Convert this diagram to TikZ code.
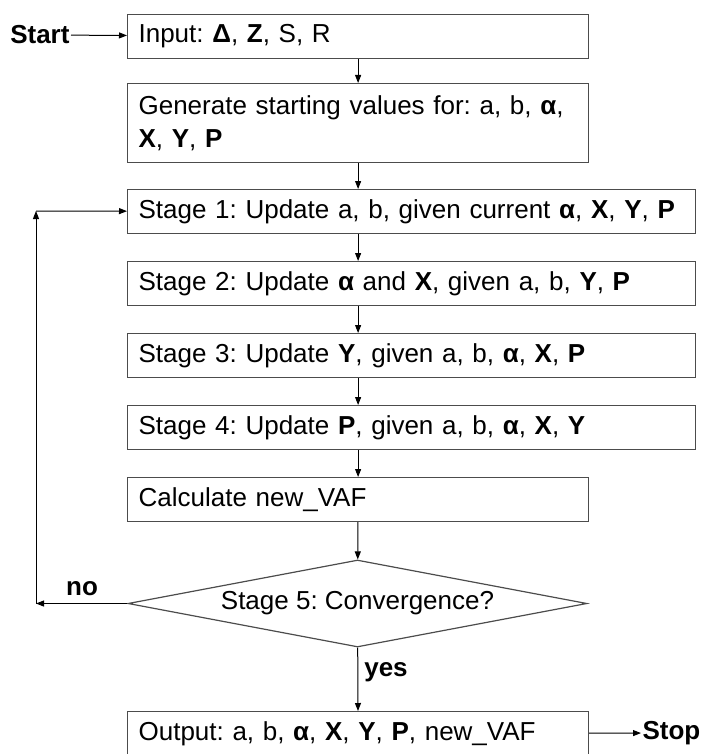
\documentclass[tikz,border=0pt]{standalone}
\usepackage{fontspec}
\setmainfont{Liberation Sans}
\usetikzlibrary{shapes.geometric, arrows.meta}
\newcommand{\vb}[1]{\textbf{#1}}
\frenchspacing

\begin{document}
\begin{tikzpicture}[x=1pt, y=-1pt, >={Triangle[length=8pt, width=6pt]}, line width=1pt,
    every node/.style={font=\fontsize{26}{33}\selectfont},
    box/.style={draw=black!70, line width=1.2pt, anchor=north west, inner xsep=11pt, inner ysep=0pt, align=left, minimum height=44pt, text width=439pt},
    wide/.style={box, text width=546pt},
    test/.style={draw=black!70, line width=1.2pt, diamond, shape aspect=5.3, inner sep=0pt, minimum width=459pt, minimum height=87pt},
    tag/.style={font=\fontsize{26}{33}\selectfont\bfseries, inner sep=1pt}]
          \useasboundingbox (0,0) rectangle (704,754);
          \node[tag, anchor=east] (Start) at (71,35) {Start};
          \node[box] (In) at (127,14) {Input: \vb{Δ}, \vb{Z}, S, R};
          \node[box, minimum height=79pt] (Gen) at (127,83) {Generate starting values for: a, b, \vb{α},\\ \vb{X}, \vb{Y}, \vb{P}};
          \node[wide] (S1) at (127,189) {Stage 1: Update a, b, given current \vb{α}, \vb{X}, \vb{Y}, \vb{P}};
          \node[wide] (S2) at (127,261) {Stage 2: Update \vb{α} and \vb{X}, given a, b, \vb{Y}, \vb{P}};
          \node[wide] (S3) at (127,333) {Stage 3: Update \vb{Y}, given a, b, \vb{α}, \vb{X}, \vb{P}};
          \node[wide] (S4) at (127,405) {Stage 4: Update \vb{P}, given a, b, \vb{α}, \vb{X}, \vb{Y}};
          \node[box] (Calc) at (127,477) {Calculate new\_VAF};
          \node[test] (Conv) at (357.5,603.5) {Stage 5: Convergence?};
          \node[box] (Out) at (127,711) {Output: a, b, \vb{α}, \vb{X}, \vb{Y}, \vb{P}, new\_VAF};
          \node[tag, anchor=west] (Stop) at (641,733) {Stop};
          \node[tag] (No) at (82,589) {no};
          \node[tag] (Yes) at (386,672) {yes};
          \coordinate (L1) at (36,603.5);
          \coordinate (L2) at (36,211);

          \draw[->] (Start) to (In);
          \draw[->] (In) to (Gen);
          \draw[->] (Gen) to (Gen.south |- S1.north);
          \draw[->] (S1.south -| Gen.south) to (S2.north -| Gen.south);
          \draw[->] (S2.south -| Gen.south) to (S3.north -| Gen.south);
          \draw[->] (S3.south -| Gen.south) to (S4.north -| Gen.south);
          \draw[->] (S4.south -| Calc.north) to (Calc);
          \draw[->] (Calc) to (Conv);
          \draw[->] (Conv) to (Out);
          \draw[->] (Out) to (Stop);
          \draw[->] (Conv) to (L1);
          \draw[->] (L1) to (L2);
          \draw[->] (L2) to (S1);
        \end{tikzpicture}
\end{document}
